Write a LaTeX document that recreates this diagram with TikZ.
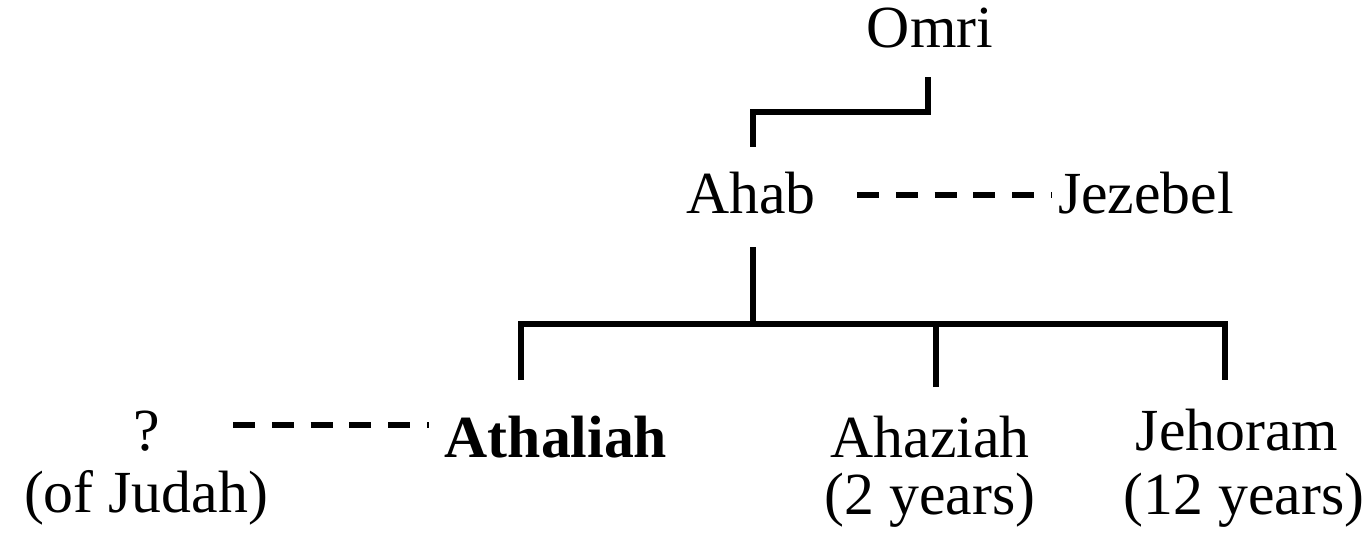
\documentclass[tikz,border=0pt]{standalone}
\usepackage{fontspec}
\setmainfont{Liberation Serif}
\usetikzlibrary{calc}

\begin{document}
\begin{tikzpicture}[x=0.02cm,y=-0.02cm,
  every node/.style={anchor=base,inner sep=0pt,font=\fontsize{34}{40}\selectfont},
  link/.style={line width=3pt},
  wed/.style={line width=3pt,dash pattern=on 12.5pt off 9.6pt}]

\useasboundingbox (0,0) rectangle (1370,548);

% generations
\node (omri) at (930,47) {Omri};
\node (ahab) at (751,213) {Ahab};
\node (jezebel) at (1146,213) {Jezebel};

\node (husband) at (147,450) {?};
\node (judah) at (146,512) {(of Judah)};
\node (athaliah) at (556,457) {\bfseries Athaliah};
\node (ahaziah) at (930,457) {Ahaziah};
\node (ahaziahyrs) at (930,514) {(2 years)};
\node (jehoram) at (1237,450) {Jehoram};
\node (jehoramyrs) at (1244,514) {(12 years)};

\coordinate (fork) at (753,324);

% Omri -> Ahab
\draw[link] ($(omri.base)+(-2,30)$) -- ++(0,35) -| ($(ahab.base)+(2,-66)$);

% Ahab -> children
\draw[link] ($(ahab.base)+(2,34)$) -- (fork);
\draw[link] ($(athaliah.base)+(-35,-77)$) |- (fork) -| ($(jehoram.base)+(-12,-70)$);
\draw[link] ($(ahaziah.base)+(6,-70)$) -- ($(ahaziah.base)+(6,-133)$);

% marriages
\draw[wed] ($(ahab.base)+(106,-18)$) -- ($(jezebel.base)+(-94,-18)$);
%\draw[wed] ($(omri.base)+(100,-18)$) -- ++(150,0);
\draw[wed] ($(husband.base)+(86,-25)$) -- ($(athaliah.base)+(-127,-32)$);

\end{tikzpicture}
\end{document}
